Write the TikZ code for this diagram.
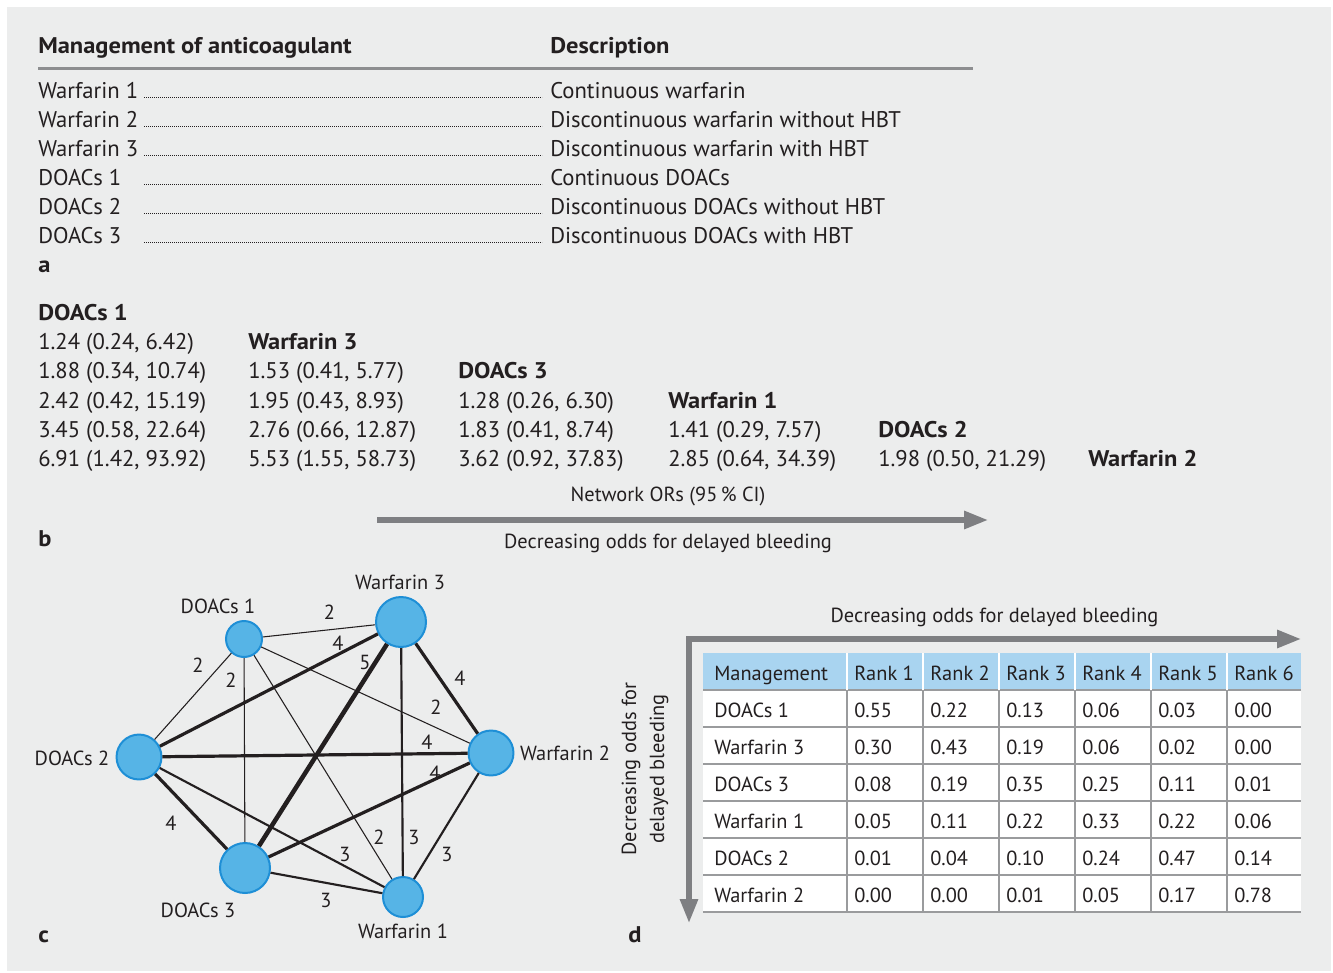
\documentclass[tikz,border=0pt]{standalone}
\usepackage{fontspec}
\setmainfont{PT Sans}[BoldFeatures={FakeStretch=1.08}]
\usetikzlibrary{arrows.meta}
\definecolor{panelgray}{HTML}{ECEDED}
\definecolor{inkblack}{HTML}{231F20}
\definecolor{rulegray}{HTML}{8D8E90}
\definecolor{arrowgray}{HTML}{7E7F82}
\definecolor{tablegray}{HTML}{9A9B9D}
\definecolor{nodeblue}{HTML}{56B4E6}
\definecolor{rimblue}{HTML}{1E8FD6}
\definecolor{headblue}{HTML}{A9D4F0}
\tikzset{
  body text/.style={anchor=base west, inner sep=0pt, text=inkblack,
    font=\fontsize{17}{20}\selectfont},
  bold text/.style={body text, font=\fontsize{17}{20}\selectfont\bfseries},
  small text/.style={inner sep=0pt, text=inkblack, font=\fontsize{15.3}{18}\selectfont},
  cell text/.style={small text, anchor=base west},
  leader/.style={inkblack, line width=0.5pt, dash pattern=on 0.6pt off 0.9pt},
  drug node/.style={circle, draw=rimblue, fill=nodeblue, line width=1.5pt, inner sep=0pt},
  drug label/.style={small text, anchor=base},
  weight label/.style={small text, anchor=base},
  edge two/.style={draw=inkblack, line width=0.8pt},
  edge three/.style={draw=inkblack, line width=1.6pt},
  edge four/.style={draw=inkblack, line width=2.4pt},
  edge five/.style={draw=inkblack, line width=3.4pt},
  trend arrow/.style={draw=arrowgray, line width=3.8pt},
}
\begin{document}
\begin{tikzpicture}[x=0.75pt, y=-0.75pt,
    trend tip/.tip={Triangle[length=18pt, width=13pt]}]
  \useasboundingbox (0,0) rectangle (1333,973);
  \fill[white] (0,0) rectangle (1333,973);
  \fill[panelgray] (7,7) rectangle (1331,971);

  % a: list of managements
  \node[bold text] (headname) at (38,54) {Management of anticoagulant};
  \node[bold text] (headdesc) at (550,54) {Description};
  \coordinate (ruleL) at (38,69);
  \coordinate (ruleR) at (973,69);
  \draw[rulegray, line width=2.25pt] (ruleL) -- (ruleR);
  \foreach \drug/\desc [count=\i from 0] in {
      Warfarin 1/Continuous warfarin,
      Warfarin 2/Discontinuous warfarin without HBT,
      Warfarin 3/Discontinuous warfarin with HBT,
      DOACs 1/Continuous DOACs,
      DOACs 2/Discontinuous DOACs without HBT,
      DOACs 3/Discontinuous DOACs with HBT} {
    \node[body text] (drug\i) at (38, 98.5+29*\i) {\drug};
    \node[body text] (desc\i) at (550, 98.5+29*\i) {\desc};
    \coordinate (dotsL\i) at (144, 97.5+29*\i);
    \coordinate (dotsR\i) at (542, 97.5+29*\i);
    \draw[leader] (dotsL\i) -- (dotsR\i);
  }
  \node[bold text] (taga) at (38,273) {a};

  % b: league table of network ORs
  \foreach \head [count=\r from 0] in {DOACs 1, Warfarin 3, DOACs 3,
      Warfarin 1, DOACs 2, Warfarin 2}
    \node[bold text] (orhead\r) at (38+210*\r, 320.5+29.2*\r) {\head};
  \foreach \vals [count=\r] in {
      {1.24/0.24/6.42},
      {1.88/0.34/10.74, 1.53/0.41/5.77},
      {2.42/0.42/15.19, 1.95/0.43/8.93, 1.28/0.26/6.30},
      {3.45/0.58/22.64, 2.76/0.66/12.87, 1.83/0.41/8.74, 1.41/0.29/7.57},
      {6.91/1.42/93.92, 5.53/1.55/58.73, 3.62/0.92/37.83, 2.85/0.64/34.39, 1.98/0.50/21.29}}
    \foreach \est/\low/\upp [count=\col from 0] in \vals
      \node[body text] (or\r\col) at (38+210*\col, 320.5+29.2*\r) {\est\ (\low, \upp)};
  \node[small text, anchor=base] (orcap) at (668,501) {Network ORs (95\,\% CI)};
  \coordinate (trendL) at (377,520);
  \coordinate (trendR) at (988,520);
  \draw[trend arrow, -trend tip] (trendL) -- (trendR);
  \node[small text, anchor=base] (trendcap) at (668,548) {Decreasing odds for delayed bleeding};
  \node[bold text] (tagb) at (38,546) {b};

  % c: network of comparisons
  \node[drug node, minimum size=27pt]   (d1) at (244,639) {};
  \node[drug node, minimum size=37.5pt] (w3) at (401,622) {};
  \node[drug node, minimum size=33.7pt] (d2) at (139,757) {};
  \node[drug node, minimum size=33.7pt] (w2) at (491,753) {};
  \node[drug node, minimum size=37.5pt] (d3) at (245,868) {};
  \node[drug node, minimum size=30pt]   (w1) at (403,897) {};

  \draw[edge two]   (d1) -- (w3);
  \draw[edge two]   (d1) -- (d2);
  \draw[edge two]   (d1) -- (d3);
  \draw[edge two]   (d1) -- (w2);
  \draw[edge two]   (d1) -- (w1);
  \draw[edge four]  (w3) -- (d2);
  \draw[edge five]  (w3) -- (d3);
  \draw[edge four]  (w3) -- (w2);
  \draw[edge three] (w3) -- (w1);
  \draw[edge four]  (d2) -- (w2);
  \draw[edge four]  (w2) -- (d3);
  \draw[edge three] (w2) -- (w1);
  \draw[edge four]  (d2) -- (d3);
  \draw[edge three] (d2) -- (w1);
  \draw[edge three] (d3) -- (w1);

  \node[weight label] (n13) at (329.5,619) {2};
  \node[weight label] (n12) at (198,672) {2};
  \node[weight label] (n15) at (231,687) {2};
  \node[weight label] (n14) at (436,714) {2};
  \node[weight label] (n16) at (379,844) {2};
  \node[weight label] (n32) at (338,650) {4};
  \node[weight label] (n35) at (365,669) {5};
  \node[weight label] (n34) at (460,685) {4};
  \node[weight label] (n36) at (414,844) {3};
  \node[weight label] (n24) at (427,749) {4};
  \node[weight label] (n45) at (435,780) {4};
  \node[weight label] (n46) at (447,861) {3};
  \node[weight label] (n25) at (171,830) {4};
  \node[weight label] (n26) at (345,861) {3};
  \node[weight label] (n56) at (326,907) {3};

  \node[drug label] (d1name) at (218,613) {DOACs 1};
  \node[drug label] (w3name) at (400,589) {Warfarin 3};
  \node[drug label] (d2name) at (72,765) {DOACs 2};
  \node[drug label] (w2name) at (565,760) {Warfarin 2};
  \node[drug label] (d3name) at (198,917) {DOACs 3};
  \node[drug label] (w1name) at (403,938) {Warfarin 1};
  \node[bold text] (tagc) at (38,942) {c};

  % d: rank probabilities
  \node[small text, anchor=base] (rankcap) at (994.5,622) {Decreasing odds for delayed bleeding};
  \node[small text, rotate=90, align=center, font=\fontsize{15.3}{21}\selectfont]
    (rankside) at (645,769) {Decreasing odds for\\delayed bleeding};
  \coordinate (rankR) at (1301,639);
  \coordinate (rankC) at (689,639);
  \coordinate (rankB) at (689,923);
  \draw[trend arrow, trend tip-trend tip] (rankR) -- (rankC) -- (rankB);

  \fill[headblue] (703,653) rectangle (1301,690);
  \fill[white] (703,690) rectangle (1301,913);
  \foreach \y in {690,727,...,913}
    \draw[tablegray, line width=1.3pt] (703,\y) -- (1301,\y);
  \foreach \x in {847,923,999,1075,1151,1227} {
    \draw[white, line width=1.5pt] (\x,653) -- (\x,690);
    \draw[tablegray, line width=1pt] (\x,690) -- (\x,913);
  }
  \node[cell text] (rankhead0) at (714,680) {Management};
  \foreach \h [count=\col] in {Rank 1, Rank 2, Rank 3, Rank 4, Rank 5, Rank 6}
    \node[cell text] (rankhead\col) at (778+76*\col,680) {\h};
  \foreach \name/\pa/\pb/\pc/\pd/\pe/\pf [count=\row from 0] in {
      DOACs 1/0.55/0.22/0.13/0.06/0.03/0.00,
      Warfarin 3/0.30/0.43/0.19/0.06/0.02/0.00,
      DOACs 3/0.08/0.19/0.35/0.25/0.11/0.01,
      Warfarin 1/0.05/0.11/0.22/0.33/0.22/0.06,
      DOACs 2/0.01/0.04/0.10/0.24/0.47/0.14,
      Warfarin 2/0.00/0.00/0.01/0.05/0.17/0.78} {
    \node[cell text] (rank\row0) at (714,717+37*\row) {\name};
    \foreach \p [count=\col] in {\pa,\pb,\pc,\pd,\pe,\pf}
      \node[cell text] (rank\row\col) at (778+76*\col,717+37*\row) {\p};
  }
  \node[bold text] (tagd) at (628,942) {d};
\end{tikzpicture}
\end{document}
